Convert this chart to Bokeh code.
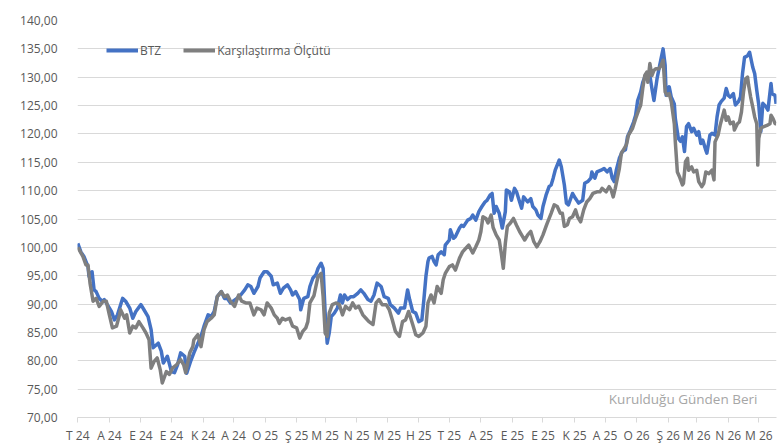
from datetime import date
from bokeh.plotting import figure
from bokeh.models import Range1d, FixedTicker, Legend, LegendItem, Label
from bokeh.embed import file_html
from bokeh.resources import INLINE

# ---------------- data ----------------
launch = date(2024, 7, 1)

month_letters = ["T", "A", "E", "E", "K", "A", "O", "Ş", "M", "N", "M", "H",
                 "T", "A", "E", "E", "K", "A", "O", "Ş", "M", "N", "M"]

y_ticks = [70, 75, 80, 85, 90, 95, 100, 105, 110, 115, 120, 125, 130, 135, 140]

# days since launch / index value (BTZ)
btz_day = [
    0, 3, 6, 10, 11, 14, 16, 18, 21, 24,
    26, 29, 33, 36, 39, 44, 47, 51, 54, 57,
    62, 65, 69, 72, 74, 79, 82, 84, 88, 92,
    95, 98, 101, 105, 107, 111, 114, 118, 121, 124,
    128, 131, 134, 137, 141, 144, 147, 150, 155, 160,
    164, 167, 170, 173, 177, 179, 183, 186, 190, 192,
    196, 199, 202, 206, 209, 211, 214, 218, 219, 222,
    226, 228, 231, 234, 236, 239, 241, 243, 245, 247,
    249, 252, 255, 258, 260, 262, 265, 268, 271, 275,
    278, 281, 285, 288, 291, 294, 298, 301, 305, 307,
    311, 315, 317, 321, 324, 326, 329, 332, 335, 338,
    340, 342, 344, 345, 348, 350, 352, 354, 357, 360,
    361, 365, 366, 369, 371, 375, 377, 379, 383, 386,
    388, 391, 394, 397, 400, 402, 405, 407, 409, 411,
    414, 417, 420, 421, 424, 426, 429, 431, 433, 436,
    438, 442, 445, 447, 450, 452, 455, 457, 460, 463,
    465, 467, 469, 473, 475, 478, 480, 482, 486, 489,
    492, 496, 498, 501, 504, 505, 508, 510, 514, 517,
    520, 523, 525, 527, 529, 532, 535, 538, 540, 543,
    546, 548, 550, 553, 555, 557, 559, 562, 564, 566,
    569, 571, 573, 575, 577, 578, 581, 583, 586, 587,
    590, 592, 594, 596, 598, 600, 603, 605, 608, 610,
    612, 614, 617, 618, 621, 623, 626, 628, 630, 632,
    635, 637, 639, 641, 644, 646, 649, 651, 653, 655,
    658, 660, 663, 665, 667, 669, 671, 673, 676, 678,
    681, 682, 685, 686,
]
btz_value = [
    100.7, 99.2, 98.4, 96.6, 94.9, 95.7, 92.5, 92.2, 91.0, 90.5,
    90.8, 89.9, 88.7, 87.2, 88.1, 91.0, 90.5, 89.3, 87.5, 88.7,
    89.9, 89.0, 87.8, 85.5, 82.3, 83.1, 81.7, 79.6, 80.8, 78.1,
    77.9, 79.3, 81.4, 80.8, 77.8, 80.0, 81.4, 83.1, 84.3, 86.1,
    88.1, 87.8, 88.7, 91.3, 92.2, 91.0, 91.0, 90.2, 90.8, 91.6,
    92.5, 93.4, 93.1, 91.9, 93.1, 94.6, 95.7, 95.7, 94.9, 93.4,
    93.7, 91.9, 92.8, 93.4, 92.5, 91.6, 92.2, 90.8, 89.0, 91.0,
    91.3, 93.1, 94.6, 95.2, 96.3, 97.2, 96.3, 88.4, 83.1, 84.9,
    87.8, 88.4, 89.3, 91.6, 90.2, 91.6, 90.8, 91.3, 91.3, 91.9,
    92.5, 91.9, 90.8, 90.5, 91.6, 93.7, 93.1, 91.3, 91.0, 89.9,
    89.3, 88.4, 89.3, 89.3, 92.5, 90.8, 88.7, 88.4, 86.9, 87.2,
    90.8, 94.9, 97.5, 98.1, 98.4, 97.5, 96.9, 98.7, 99.2, 98.7,
    100.4, 101.3, 103.1, 101.6, 101.9, 103.4, 103.9, 103.7, 104.8, 105.1,
    105.7, 104.8, 106.3, 107.2, 108.0, 108.3, 109.2, 109.5, 106.0, 107.2,
    106.0, 103.4, 106.3, 110.1, 109.8, 108.3, 110.4, 109.8, 108.6, 106.9,
    108.9, 108.0, 108.6, 107.2, 106.6, 105.7, 105.1, 107.2, 109.2, 110.7,
    111.0, 112.2, 113.6, 115.4, 114.2, 111.0, 107.8, 107.5, 109.5, 108.6,
    107.8, 108.3, 111.3, 111.6, 112.2, 113.3, 112.2, 113.3, 113.6, 113.9,
    113.3, 113.9, 112.2, 111.6, 113.6, 115.7, 116.9, 117.2, 119.5, 120.7,
    122.1, 123.3, 125.9, 127.4, 129.1, 130.0, 130.3, 130.3, 128.0, 125.9,
    129.7, 131.5, 133.3, 135.0, 132.1, 126.8, 128.3, 126.5, 125.3, 122.7,
    119.2, 118.7, 119.5, 116.9, 121.3, 121.8, 120.4, 121.0, 119.8, 120.4,
    118.3, 118.9, 117.1, 116.6, 119.8, 120.1, 119.8, 123.0, 125.1, 125.7,
    126.3, 128.0, 126.8, 126.5, 127.1, 125.1, 125.7, 126.5, 130.6, 133.5,
    133.8, 134.4, 131.8, 130.6, 127.7, 125.1, 120.4, 125.4, 124.8, 124.2,
    128.9, 127.1, 126.8, 125.3,
]

# days since launch / index value (Karşılaştırma Ölçütü)
bench_day = [
    0, 5, 8, 10, 12, 15, 18, 21, 25, 28,
    31, 34, 38, 41, 42, 46, 48, 51, 54, 57,
    60, 64, 67, 70, 72, 75, 78, 81, 83, 87,
    90, 93, 97, 101, 104, 106, 110, 113, 114, 118,
    121, 124, 127, 131, 134, 137, 141, 144, 147, 150,
    154, 158, 161, 165, 169, 173, 176, 180, 183, 186,
    190, 193, 196, 198, 201, 204, 208, 211, 215, 218,
    221, 224, 226, 228, 232, 236, 239, 241, 243, 245,
    247, 250, 254, 257, 260, 263, 267, 270, 273, 276,
    280, 283, 286, 290, 293, 296, 299, 303, 306, 309,
    312, 316, 319, 322, 325, 329, 332, 335, 339, 342,
    344, 347, 350, 353, 357, 359, 361, 365, 368, 371,
    375, 378, 381, 384, 388, 391, 394, 396, 398, 401,
    403, 406, 408, 411, 414, 416, 418, 420, 422, 425,
    428, 431, 434, 437, 439, 442, 445, 448, 451, 454,
    457, 460, 461, 465, 468, 471, 474, 476, 478, 481,
    483, 486, 489, 491, 494, 497, 500, 503, 506, 510,
    513, 515, 519, 522, 524, 526, 528, 532, 534, 536,
    539, 541, 545, 548, 551, 553, 555, 557, 559, 560,
    562, 564, 566, 568, 571, 573, 575, 577, 579, 581,
    583, 586, 587, 589, 591, 594, 595, 597, 599, 600,
    603, 605, 608, 610, 613, 615, 617, 620, 623, 625,
    626, 629, 631, 635, 637, 639, 641, 644, 645, 648,
    650, 652, 654, 656, 658, 659, 661, 663, 665, 667,
    668, 669, 671, 674, 677, 680, 681, 683, 685, 686,
]
bench_value = [
    100.0, 98.4, 96.9, 96.9, 93.7, 90.5, 91.0, 89.6, 90.5, 90.5,
    88.1, 85.8, 86.1, 88.1, 89.0, 87.5, 88.1, 84.9, 86.1, 85.8,
    86.9, 85.8, 84.9, 83.7, 78.7, 79.9, 80.5, 78.4, 76.1, 78.1,
    77.6, 78.7, 79.3, 80.2, 79.3, 77.9, 81.4, 82.5, 83.7, 84.6,
    82.5, 85.5, 86.9, 87.5, 88.1, 91.3, 92.2, 91.3, 91.6, 90.5,
    89.6, 91.6, 90.5, 90.2, 90.2, 88.1, 89.3, 89.0, 88.1, 90.2,
    89.3, 88.1, 87.5, 86.6, 87.5, 87.2, 87.5, 86.1, 85.8, 84.0,
    85.2, 85.8, 86.9, 90.2, 91.5, 94.9, 95.4, 91.3, 84.9, 84.3,
    88.4, 89.9, 90.2, 89.9, 88.1, 89.6, 89.0, 90.2, 89.3, 89.6,
    88.1, 87.5, 86.9, 86.4, 90.2, 90.8, 89.9, 89.9, 89.0, 87.2,
    85.2, 84.3, 86.9, 87.2, 88.7, 86.4, 84.6, 84.3, 84.9, 86.1,
    90.2, 91.6, 90.2, 93.1, 91.9, 94.3, 95.4, 96.6, 96.9, 96.0,
    98.1, 99.2, 99.8, 100.4, 99.0, 100.1, 101.3, 102.8, 105.4, 105.1,
    104.3, 105.7, 103.5, 102.2, 101.3, 99.0, 96.3, 100.7, 103.7, 104.3,
    105.1, 103.9, 102.8, 101.9, 101.3, 102.2, 102.8, 101.0, 100.1, 101.0,
    102.2, 103.7, 104.2, 106.0, 107.5, 107.2, 106.0, 106.0, 103.7, 104.0,
    105.1, 105.4, 106.6, 105.4, 104.5, 106.6, 108.0, 108.6, 109.5, 109.8,
    109.8, 110.4, 109.8, 110.7, 110.1, 108.9, 110.4, 113.9, 116.6, 117.2,
    118.1, 119.8, 121.0, 122.7, 124.2, 125.1, 128.0, 130.3, 130.9, 129.1,
    132.4, 130.3, 131.2, 131.5, 131.5, 132.1, 133.0, 127.4, 126.8, 127.1,
    125.7, 121.8, 118.6, 113.3, 112.5, 111.0, 111.3, 115.1, 115.7, 113.6,
    114.2, 113.3, 113.6, 111.6, 110.7, 111.3, 113.3, 113.0, 113.6, 111.9,
    118.6, 119.8, 121.5, 124.2, 122.4, 123.0, 121.8, 122.1, 120.7, 121.8,
    122.1, 123.9, 127.4, 129.7, 130.0, 128.6, 126.5, 124.8, 123.0, 121.8,
    114.5, 119.2, 121.0, 121.3, 121.5, 121.8, 123.3, 122.7, 121.8, 121.8,
]

# ---------------- axes helpers ----------------
month_ticks = []
month_labels = {}
for i, letter in enumerate(month_letters):
    yr = 2024 + (6 + i) // 12
    mo = (6 + i) % 12 + 1
    d = (date(yr, mo, 1) - launch).days
    month_ticks.append(d)
    month_labels[d] = f"{letter} {yr % 100}"

y_labels = {v: f"{v},00" for v in y_ticks}

FONT = "Open Sans"
LABEL_COLOR = "#595959"
GRID_COLOR = "#d9d9d9"

p = figure(width=780, height=446, output_backend="svg", toolbar_location=None,
           x_range=Range1d(-0.3, 686.4), y_range=Range1d(70, 140),
           min_border_left=77, min_border_right=4, min_border_top=20,
           min_border_bottom=28)
p.outline_line_color = None
p.background_fill_color = "white"
p.border_fill_color = "white"

p.xaxis.ticker = FixedTicker(ticks=month_ticks)
p.xaxis.major_label_overrides = month_labels
p.xaxis.axis_line_color = GRID_COLOR
p.xaxis.major_tick_line_color = GRID_COLOR
p.xaxis.major_tick_in = 0
p.xaxis.major_tick_out = 5
p.xaxis.minor_tick_line_color = None
p.xaxis.major_label_standoff = 4
p.xaxis.major_label_text_font = FONT
p.xaxis.major_label_text_font_size = "12px"
p.xaxis.major_label_text_color = LABEL_COLOR

p.yaxis.ticker = FixedTicker(ticks=y_ticks)
p.yaxis.major_label_overrides = y_labels
p.yaxis.axis_line_color = None
p.yaxis.major_tick_line_color = None
p.yaxis.major_tick_in = 0
p.yaxis.major_tick_out = 0
p.yaxis.minor_tick_line_color = None
p.yaxis.major_label_standoff = 20
p.yaxis.major_label_text_font = FONT
p.yaxis.major_label_text_font_size = "12px"
p.yaxis.major_label_text_color = LABEL_COLOR

p.xgrid.visible = False
p.ygrid.grid_line_color = GRID_COLOR
p.ygrid.grid_line_width = 1

BLUE = "#4472C4"
GRAY = "#7F7F7F"

p.line(btz_day, btz_value, line_color=BLUE, line_width=3.5, line_join="round")
p.line(bench_day, bench_value, line_color=GRAY, line_width=3.5, line_join="round")

# legend-only renderers: a flat segment far below the visible range
legend_x = [0, 1]
legend_y = [0, 0]
lg1 = p.line(legend_x, legend_y, line_color=BLUE, line_width=4)
lg2 = p.line(legend_x, legend_y, line_color=GRAY, line_width=4)

legend = Legend(items=[LegendItem(label="BTZ", renderers=[lg1]),
                       LegendItem(label="Karşılaştırma Ölçütü", renderers=[lg2])],
                orientation="horizontal", location=(29, 357),
                background_fill_alpha=0, border_line_color=None,
                padding=0, margin=0, spacing=22, glyph_width=32, glyph_height=20,
                label_height=20, label_standoff=2,
                label_text_font=FONT, label_text_font_size="12px",
                label_text_color=LABEL_COLOR)
p.add_layout(legend)

p.add_layout(Label(x=667.7, y=73.3, text="Kurulduğu Günden Beri",
                   text_align="right", text_baseline="middle",
                   text_font=FONT, text_font_size="13.5px", text_color="#a6a6a6"))

open("out.html", "w").write(file_html(p, INLINE))
